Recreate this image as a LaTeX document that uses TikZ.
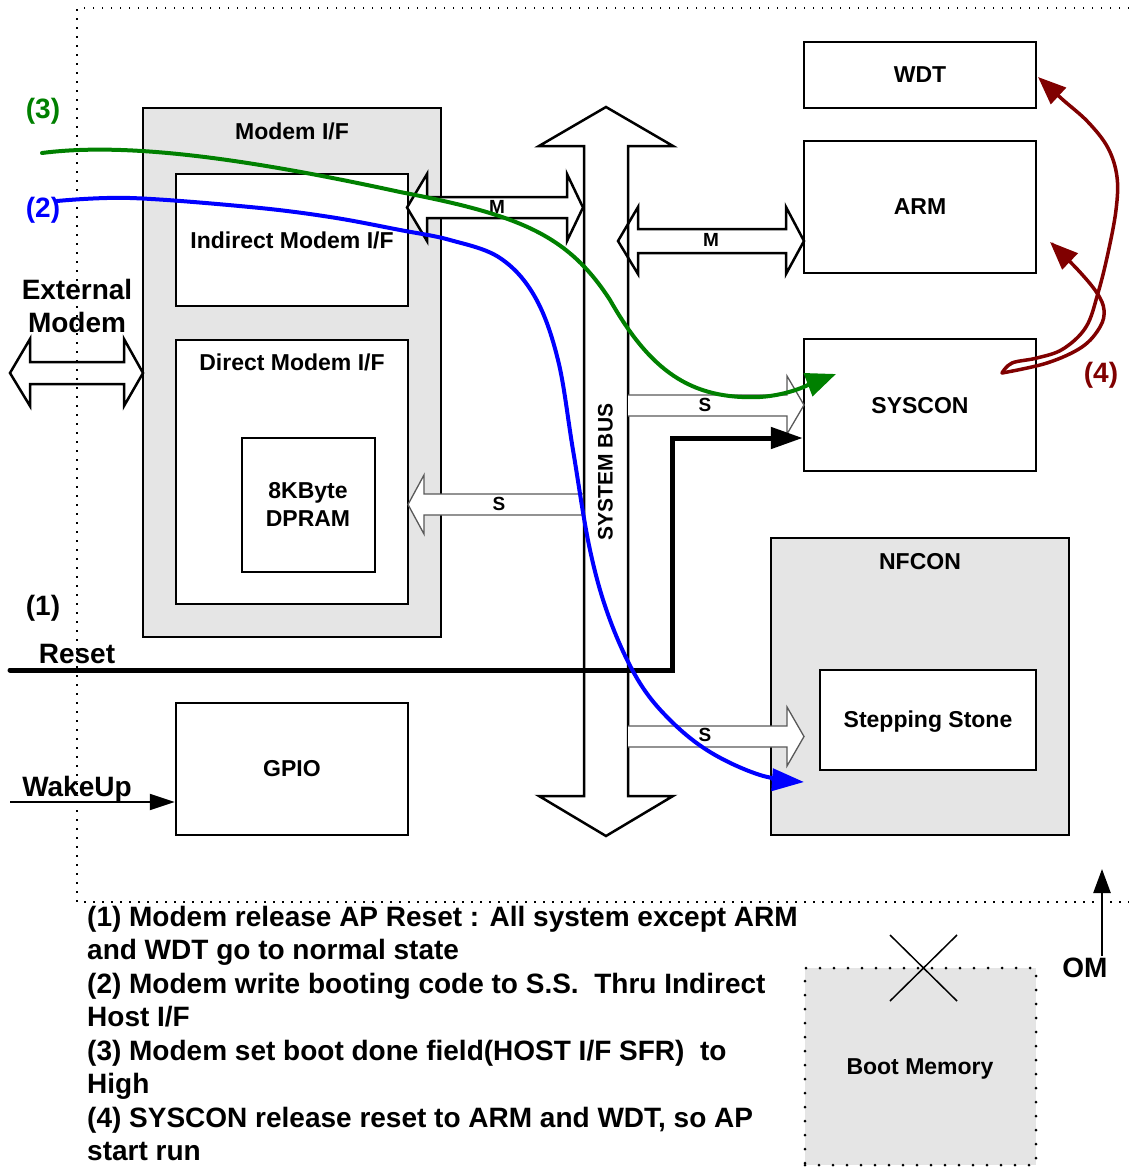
\documentclass[tikz,border=0pt]{standalone}
\usepackage{fontspec}
\setmainfont{Liberation Sans}
\usetikzlibrary{arrows.meta}
\definecolor{boxgray}{RGB}{229,229,229}
\definecolor{dgreen}{RGB}{0,128,0}
\definecolor{dred}{RGB}{128,0,0}
\begin{document}
\begin{tikzpicture}[x=1pt,y=-1pt,
  box/.style={draw, line width=2.5pt, fill=white, inner sep=0pt},
  lbl/.style={font=\fontsize{23}{27}\selectfont\bfseries, inner sep=0pt, text height=16.5pt, text depth=0pt},
  big/.style={font=\fontsize{28}{33}\selectfont\bfseries, inner sep=0pt, text height=20pt, text depth=0pt},
  note/.style={font=\fontsize{28}{33}\selectfont\bfseries, inner sep=0pt, anchor=base west},
  small/.style={font=\fontsize{19}{22}\selectfont\bfseries, inner sep=0pt, text height=13.6pt, text depth=0pt},
  blk/.style={draw, line width=2.5pt, line join=miter},
  sarr/.style={draw=black!65, line width=1.3pt, fill=white},
  curve/.style={line width=4pt, line cap=round},
  redc/.style={line width=3.5pt, line cap=round, dred, -{Triangle[length=28pt,width=22pt]}},
]
\useasboundingbox (0,0) rectangle (1129,1167);

% dotted frame
\draw[line width=1.5pt, dash pattern=on 1.5pt off 7.5pt] (1129,8) -- (77,8) -- (77,902) -- (1129,902);

% left column boxes
\node[box, fill=boxgray, minimum width=298pt, minimum height=529pt] (mif) at (292,372.5) {};
\node[box, minimum width=232pt, minimum height=132pt] (ind) at (292,240) {};
\node[box, minimum width=232pt, minimum height=264pt] (dir) at (292,472) {};
\node[box, minimum width=133pt, minimum height=134pt] (dpram) at (308.5,505) {};
\node[box, minimum width=232pt, minimum height=132pt] (gpio) at (292,769) {};

% right column boxes
\node[box, minimum width=232pt, minimum height=66pt] (wdt) at (920,75) {};
\node[box, minimum width=232pt, minimum height=132pt] (arm) at (920,207) {};
\node[box, minimum width=232pt, minimum height=132pt] (syscon) at (920,405) {};
\node[box, fill=boxgray, minimum width=298pt, minimum height=297pt] (nfcon) at (920,686.5) {};
\node[box, minimum width=216pt, minimum height=100pt] (ss) at (928,720) {};
\node[fill=boxgray, draw, line width=3pt, line cap=round, dash pattern=on 0pt off 14pt, inner sep=0pt, minimum width=231pt, minimum height=197pt] (boot) at (920.5,1066.5) {};

% box labels
\node[lbl] (tmif) at (292,131) {Modem I/F};
\node[lbl] (tind) at (292,240) {Indirect Modem I/F};
\node[lbl] (tdir) at (292,362) {Direct Modem I/F};
\node[lbl] (tdp1) at (308,490) {8KByte};
\node[lbl] (tdp2) at (308,518) {DPRAM};
\node[lbl] (tgpio) at (292,768) {GPIO};
\node[lbl] (twdt) at (920,74) {WDT};
\node[lbl] (tarm) at (920,206) {ARM};
\node[lbl] (tsys) at (920,405) {SYSCON};
\node[lbl] (tnf) at (920,561) {NFCON};
\node[lbl] (tss) at (928,719) {Stepping Stone};
\node[lbl] (tboot) at (920,1066) {Boot Memory};

% boot memory cross
\draw[line width=1.5pt] (890,935) -- (957,1001) (957,935) -- (890,1001);

% system bus
\draw[blk, fill=white] (606,107) -- (673,146) -- (628,146) -- (628,796) -- (673,796) -- (606,836) -- (539,796) -- (584,796) -- (584,146) -- (539,146) -- cycle;
\node[font=\fontsize{21}{24}\selectfont\bfseries, inner sep=0pt, text height=15pt, text depth=0pt, rotate=90] (tbus) at (605,472) {SYSTEM BUS};

% M arrows
\draw[blk, fill=white] (407,207.5) -- (427,174) -- (427,197) -- (567,197) -- (567,174) -- (583,207.5) -- (567,241) -- (567,218) -- (427,218) -- (427,241) -- cycle;
\node[small] (m1) at (497,207) {M};
\draw[blk] (618,241) -- (638,207) -- (638,229) -- (786,229) -- (786,207) -- (804,241) -- (786,274) -- (786,253) -- (638,253) -- (638,274) -- cycle;
\node[small] (m2) at (711,240) {M};

% external modem arrow
\draw[blk] (10,373) -- (30,339) -- (30,362) -- (124,362) -- (124,339) -- (143,373) -- (124,406) -- (124,384) -- (30,384) -- (30,406) -- cycle;
\node[big] (text1) at (77,289) {External};
\node[big] (text2) at (77,322) {Modem};

% S arrows
\draw[sarr] (628,395) -- (787,395) -- (787,376) -- (804,405) -- (787,434) -- (787,416) -- (628,416);
\node[small] (s1) at (705,405) {S};
\draw[sarr] (583,494) -- (424,494) -- (424,475) -- (408,504.5) -- (424,534) -- (424,515) -- (583,515);
\node[small] (s2) at (499,504) {S};
\draw[sarr] (628,726) -- (787,726) -- (787,707) -- (804,736.5) -- (787,766) -- (787,747) -- (628,747);
\node[small] (s3) at (705,735) {S};

% Reset
\coordinate (rst) at (10,670);
\draw[line width=5pt, line cap=round, -{Triangle[length=32pt,width=21pt]}] (rst) -- (672,670) -- (672,438) -- (672,438 -| syscon.west);
\node[big] (t1) at (43,605) {(1)};
\node[big] (treset) at (77,653) {Reset};

% WakeUp
\coordinate (wk) at (10,802);
\draw[line width=2pt, -{Triangle[length=25pt,width=16pt]}] (wk) -- (gpio.west |- wk);
\node[big] (twake) at (77,786) {WakeUp};

% OM
\coordinate (omb) at (1102,956);
\coordinate (omt) at (1102,869);
\draw[line width=2.5pt, -{Triangle[length=24pt,width=17pt]}] (omb) -- (omt);
\node[big, fill=white, inner xsep=1pt] (tom) at (1085,967) {OM};

% (3) green
\coordinate (g0) at (42,153);
\coordinate (g1) at (400,192);
\coordinate (g2) at (610,300);
\coordinate (g3) at (760,397);
\coordinate (g4) at (836,374);
\draw[curve, dgreen, -{Triangle[length=30pt,width=24pt]}] (g0) .. controls (120,143) and (230,155) .. (g1) .. controls (520,215) and (568,235) .. (g2) .. controls (650,370) and (690,400) .. (g3) .. controls (790,395) and (810,384) .. (g4);
\node[big, text=dgreen] (t3) at (43,108) {(3)};

% (2) blue
\draw[curve, blue, -{Triangle[length=32pt,width=22pt]}] plot[smooth, tension=0.6] coordinates {(57,201) (130,198) (250,207) (330,217) (400,230) (450,240) (500,258) (535,297) (558,360) (573,450) (590,550) (610,620) (638,680) (670,720) (710,752) (760,775) (804,782)};
\node[big, text=blue] (t2) at (43,207) {(2)};

% (4) dark red
\draw[redc] plot[smooth, tension=0.6] coordinates {(1002,373) (1047,363) (1082,347) (1100,327) (1104,310) (1097,293) (1078,270) (1050,242)};
\draw[redc] plot[smooth, tension=0.6] coordinates {(1002,373) (1012,363) (1037,358) (1063,349) (1086,327) (1098,293) (1108,253) (1116,210) (1117,177) (1108,148) (1088,122) (1062,99) (1038,77)};
\node[big, text=dred] (t4) at (1101,372) {(4)};

% notes
\node[note] (n1) at (87,926) {(1) Modem release AP Reset : All system except ARM};
\node[note] (n2) at (87,959.5) {and WDT go to normal state};
\node[note] (n3) at (87,993) {(2) Modem write booting code to S.S.\ \ Thru Indirect};
\node[note] (n4) at (87,1026.5) {Host I/F};
\node[note] (n5) at (87,1060) {(3) Modem set boot done field(HOST I/F SFR)\ \ to};
\node[note] (n6) at (87,1093.5) {High};
\node[note] (n7) at (87,1127) {(4) SYSCON release reset to ARM and WDT, so AP};
\node[note] (n8) at (87,1160.5) {start run};
\end{tikzpicture}
\end{document}
